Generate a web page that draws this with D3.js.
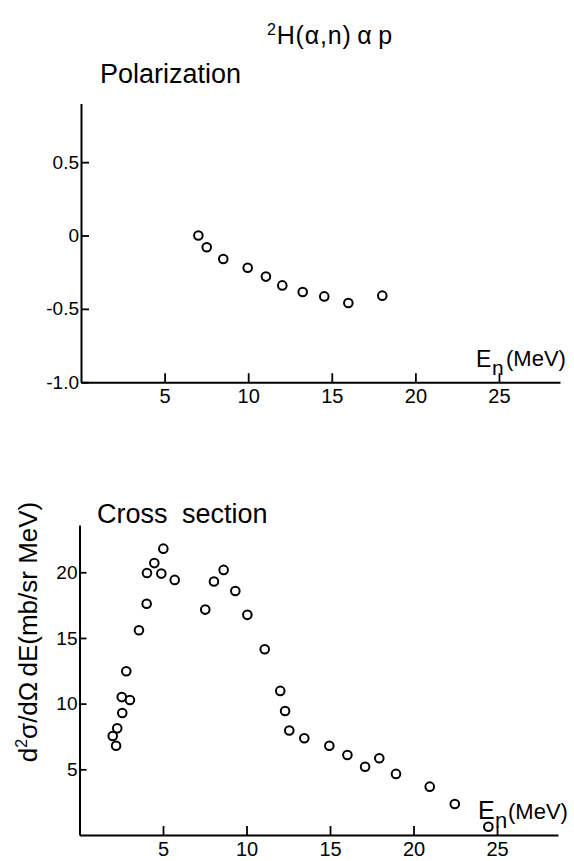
<!DOCTYPE html>
<html>
<head>
<meta charset="utf-8">
<script src="https://cdn.jsdelivr.net/npm/d3@7"></script>
<style>
  html, body { margin: 0; padding: 0; background: #fff; }
  svg { display: block; }
</style>
</head>
<body>
<script>
const FONT = '"Liberation Sans", Arial, sans-serif';

// Polarization panel: neutron energy (MeV) vs polarization
const polE = [7.02, 7.52, 8.51, 9.97, 11.06, 12.04, 13.26, 14.55, 15.99, 18.02];
const polP = [0.0, -0.08, -0.16, -0.22, -0.28, -0.34, -0.385, -0.415, -0.46, -0.41];
const polTicks = [-1, -0.5, 0, 0.5];
const polTickLabels = ['-1.0', '-0.5', '0', '0.5'];

// Cross section panel: neutron energy (MeV) vs d2sigma/dOmega dE (mb/sr MeV)
const xsE = [1.99, 2.19, 2.26, 2.56, 2.53, 3.02, 2.8, 3.56, 4.02, 4.04, 4.48, 4.9, 5.02, 5.7,
  7.53, 8.05, 8.63, 9.33, 10.05, 11.09, 12.02, 12.31, 12.56, 13.46, 14.96, 16.04, 17.1,
  17.95, 18.95, 20.97, 22.47, 24.48];
const xsV = [7.54, 6.8, 8.12, 9.29, 10.5, 10.28, 12.47, 15.59, 17.6, 19.95, 20.7, 19.9, 21.8, 19.42,
  17.16, 19.3, 20.18, 18.58, 16.76, 14.14, 10.97, 9.44, 7.96, 7.36, 6.8, 6.09, 5.2,
  5.84, 4.65, 3.68, 2.36, 0.63];
const xsTicks = [5, 10, 15, 20];

const energyTicks = [5, 10, 15, 20, 25];

const svg = d3.select('body').append('svg')
  .attr('width', 574).attr('height', 861);
svg.append('rect').attr('width', 574).attr('height', 861).attr('fill', '#fff');

function styleAxis(g, size) {
  g.select('.domain').attr('stroke', '#000').attr('stroke-width', 2);
  g.selectAll('.tick line').attr('stroke', '#000').attr('stroke-width', 1.8);
  g.selectAll('.tick text').attr('fill', '#000')
    .attr('font-family', FONT).attr('font-size', size);
}

function drawPoints(g, xs, ys, x, y) {
  g.selectAll('circle')
    .data(xs.map((e, i) => [e, ys[i]]))
    .enter().append('circle')
    .attr('cx', d => x(d[0]))
    .attr('cy', d => y(d[1]))
    .attr('r', 4.3)
    .attr('fill', 'none')
    .attr('stroke', '#000')
    .attr('stroke-width', 2);
}

// title
const title = svg.append('text')
  .attr('x', 267).attr('y', 44)
  .attr('font-family', FONT).attr('font-size', 25)
  .attr('letter-spacing', 0.8);
title.append('tspan').attr('font-size', 16).attr('dy', -9).text('2');
title.append('tspan').attr('dy', 9).text('H(α,n)\u2009α\u2009p');

// ---- Polarization panel ----
const xPol = d3.scaleLinear().domain([0, 28.65]).range([81, 560]);
const yPol = d3.scaleLinear().domain([-1, 0.9]).range([382.2, 103.5]);

svg.append('g')
  .attr('transform', `translate(0,${yPol(-1)})`)
  .call(d3.axisBottom(xPol).tickValues(energyTicks).tickFormat(d3.format('d'))
    .tickSizeInner(-9).tickSizeOuter(0).tickPadding(7))
  .call(g => styleAxis(g, 20));

svg.append('g')
  .attr('transform', `translate(${xPol(0)},0)`)
  .call(d3.axisLeft(yPol).tickValues(polTicks).tickFormat((d, i) => polTickLabels[i])
    .tickSizeInner(-8).tickSizeOuter(0).tickPadding(2))
  .call(g => styleAxis(g, 19));

drawPoints(svg.append('g'), polE, polP, xPol, yPol);

svg.append('text').attr('x', 100).attr('y', 83)
  .attr('font-family', FONT).attr('font-size', 27).text('Polarization');

svg.append('text').attr('x', 476).attr('y', 367)
  .attr('font-family', FONT).attr('font-size', 23).text('E');
svg.append('text').attr('x', 492).attr('y', 375)
  .attr('font-family', FONT).attr('font-size', 21).text('n');
svg.append('text').attr('x', 506).attr('y', 366)
  .attr('font-family', FONT).attr('font-size', 22).text('(MeV)');

// ---- Cross section panel ----
const xXs = d3.scaleLinear().domain([0, 28.65]).range([79.5, 558]);
const yXs = d3.scaleLinear().domain([0, 23.6]).range([835, 525]);

svg.append('g')
  .attr('transform', `translate(0,${yXs(0)})`)
  .call(d3.axisBottom(xXs).tickValues(energyTicks).tickFormat(d3.format('d'))
    .tickSizeInner(-9).tickSizeOuter(0).tickPadding(7))
  .call(g => styleAxis(g, 20));

svg.append('g')
  .attr('transform', `translate(${xXs(0)},0)`)
  .call(d3.axisLeft(yXs).tickValues(xsTicks).tickFormat(d3.format('d'))
    .tickSizeInner(-7).tickSizeOuter(0).tickPadding(2))
  .call(g => styleAxis(g, 19));

drawPoints(svg.append('g'), xsE, xsV, xXs, yXs);

svg.append('text').attr('x', 97).attr('y', 523)
  .attr('font-family', FONT).attr('font-size', 27)
  .attr('word-spacing', 7).text('Cross section');

svg.append('text').attr('x', 478).attr('y', 819)
  .attr('font-family', FONT).attr('font-size', 25).text('E');
svg.append('text').attr('x', 495).attr('y', 828)
  .attr('font-family', FONT).attr('font-size', 22).text('n');
svg.append('text').attr('x', 508).attr('y', 819)
  .attr('font-family', FONT).attr('font-size', 22).text('(MeV)');

const yLab = svg.append('text')
  .attr('transform', 'translate(37,632) rotate(-90)')
  .attr('text-anchor', 'middle')
  .attr('font-family', FONT).attr('font-size', 26);
yLab.append('tspan').text('d');
yLab.append('tspan').attr('font-size', 16).attr('dy', -10).text('2');
yLab.append('tspan').attr('dy', 10).text('σ/dΩ\u2009dE(mb/sr MeV)');
</script>
</body>
</html>
